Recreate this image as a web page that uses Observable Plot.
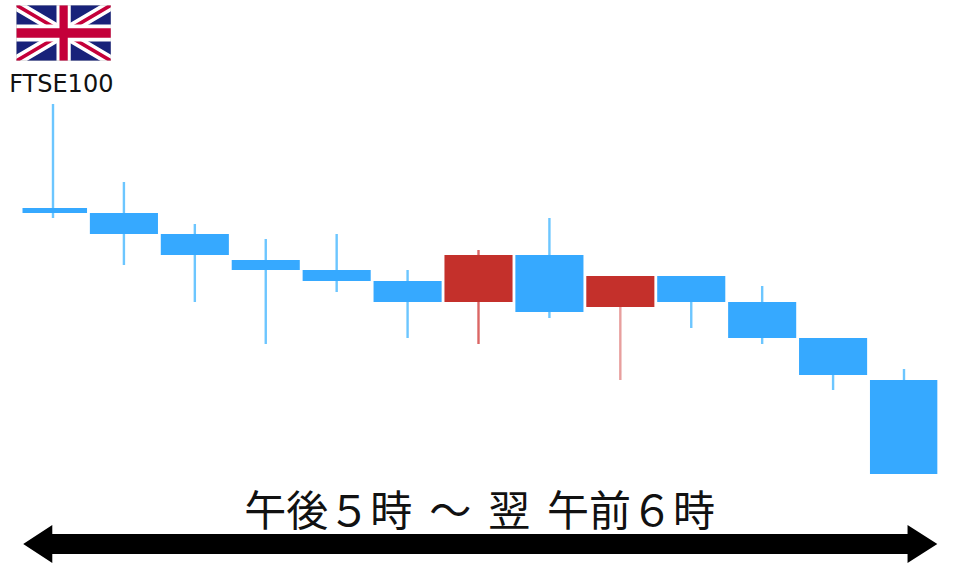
<!DOCTYPE html>
<html><head><meta charset="utf-8">
<script src="https://cdn.jsdelivr.net/npm/d3@7"></script>
<script src="https://cdn.jsdelivr.net/npm/@observablehq/plot@0.6"></script>
<style>html,body{margin:0;padding:0;background:#fff}svg{display:block}</style>
</head><body><div id="chart"></div>
<script>
const hours = [17,18,19,20,21,22,23,24,25,26,27,28,29];
const opens = [359,354,333,307,297,286,265,312,260,291,265,229,187];
const closes = [354,333,312,297,286,265,312,255,291,265,229,192,93];
const highs = [463,385,343,328,333,297,317,349,291,291,281,229,198];
const lows = [349,302,265,223,275,229,223,249,187,239,223,177,93];
const wickOpacity = [1,1,1,1,1,1,0.8,1,0.5,1,1,1,1];
const bodyLeft = [0.43,0.48,0.48,0.48,0.48,0.48,0.48,0.48,0.48,0.48,0.48,0.48,0.48];
const bodyRight = [0.48,0.48,0.48,0.48,0.48,0.48,0.48,0.48,0.48,0.48,0.48,0.48,0.47];
const labelText = "FTSE100";
const titleText = "午後５時 ～ 翌 午前６時";
const arrowX = [16.58,16.99,16.99,29.05,29.05,29.47];
const arrowTop = [23,42,33,33,42,23];
const arrowBottom = [23,4,13,13,4,23];

const candles = hours.map((h,i)=>({h,open:opens[i],close:closes[i],high:highs[i],low:lows[i],
  up:closes[i]>opens[i],op:wickOpacity[i],l:h-bodyLeft[i],r:h+bodyRight[i]}));
const blue="#36a9ff", red="#c4302b";
const arrow = arrowX.map((x,i)=>({x,y1:arrowTop[i],y2:arrowBottom[i]}));

function flag(index,{x,y}){
  const g=d3.create("svg:svg").attr("x",x(16.48)).attr("y",y(562)).attr("width",95).attr("height",56)
    .attr("viewBox","0 0 60 30").attr("preserveAspectRatio","none");
  g.append("rect").attr("width",60).attr("height",30).attr("fill","#18227a");
  g.append("path").attr("d","M0,0L60,30M60,0L0,30").attr("stroke","#fff").attr("stroke-width",6);
  g.append("path").attr("d","M0,0L60,30M60,0L0,30").attr("stroke","#c4003a").attr("stroke-width",2);
  g.append("path").attr("d","M30,0V30M0,15H60").attr("stroke","#fff").attr("stroke-width",9);
  g.append("path").attr("d","M30,0V30M0,15H60").attr("stroke","#c4003a").attr("stroke-width",5.2);
  g.append("rect").attr("width",60).attr("height",30).attr("fill","none").attr("stroke","#ccc").attr("stroke-width",0.5);
  return g.node();
}

const chart = Plot.plot({
  width:960,height:567,margin:0,
  style:{wordSpacing:"7.5px"},
  x:{type:"linear",domain:[17,29],range:[53,904],axis:null},
  y:{type:"linear",domain:[0,567],range:[567,0],axis:null},
  marks:[
    Plot.ruleX(candles,{x:"h",y1:"low",y2:"high",strokeWidth:2.4,strokeOpacity:"op",dx:-0.5,
      stroke:d=>d.up?"#d2403e":"#6cc6ff"}),
    Plot.rect(candles,{x1:"l",x2:"r",y1:"open",y2:"close",
      fill:d=>d.up?red:blue}),
    Plot.area(arrow,{x1:"x",y1:"y1",y2:"y2",fill:"#000",curve:"linear"}),
    Plot.text([labelText],{x:[17.11],y:[483],text:d=>d,fontSize:24,fill:"#111",
      fontFamily:"'DejaVu Sans'",textAnchor:"middle",lineAnchor:"middle"}),
    Plot.text([titleText],{x:[23.01],y:[55],text:d=>d,fontSize:42,fill:"#111",
      fontFamily:"'Noto Sans CJK JP'",textAnchor:"middle",lineAnchor:"middle"}),
    flag
  ]
});
document.getElementById("chart").append(chart);
</script></body></html>
